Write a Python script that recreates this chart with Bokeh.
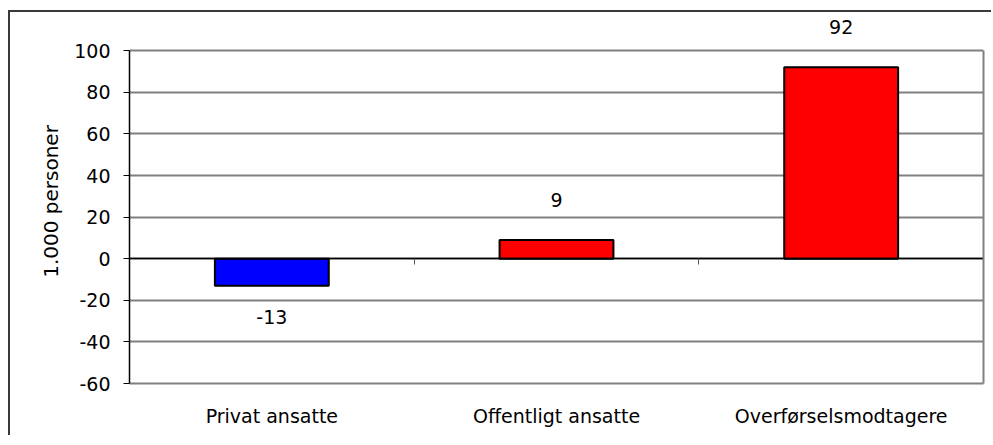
from bokeh.plotting import figure
from bokeh.models import LinearAxis, FixedTicker, ColumnDataSource, Range1d
from bokeh.core.properties import value
from bokeh.embed import file_html
from bokeh.resources import INLINE

categories = ["Privat ansatte", "Offentligt ansatte", "Overførselsmodtagere"]
values = [-13, 9, 92]
colors = ["#0000FF", "#FF0000", "#FF0000"]
y_ticks = [-60, -40, -20, 0, 20, 40, 60, 80, 100]
y_label = "1.000 personer"

FONT = "DejaVu Sans"
HEADROOM = 15  # extra value-axis room above the plot box for the value labels

n = len(categories)
centers = [i + 0.5 for i in range(n)]
ymin, ymax = y_ticks[0], y_ticks[-1]

p = figure(width=983, height=425, output_backend="svg", toolbar_location=None,
           x_range=Range1d(0, n), y_range=Range1d(ymin, ymax + HEADROOM),
           min_border_left=119, min_border_right=10, min_border_top=7, min_border_bottom=54)
p.styles = {"border-style": "solid", "border-color": "#3a3a3a",
            "border-width": "2px 0px 0px 2px",
            "margin-top": "10px", "margin-left": "8px", "outline": "none"}
p.background_fill_color = "white"
p.border_fill_color = "white"
p.outline_line_color = None

# grid (top line at 100 doubles as the plot-box top edge)
p.xgrid.visible = False
p.ygrid.ticker = FixedTicker(ticks=y_ticks)
p.ygrid.grid_line_color = "#808080"
p.ygrid.grid_line_width = 2
p.ygrid.bounds = (0, n)

# y axis
p.yaxis.ticker = FixedTicker(ticks=y_ticks)
p.yaxis.bounds = (ymin, ymax)
p.yaxis.major_label_overrides = {t: str(t) for t in y_ticks}
p.yaxis.axis_line_color = "black"
p.yaxis.axis_line_width = 1.5
p.yaxis.major_tick_line_color = "black"
p.yaxis.major_tick_out = 6
p.yaxis.major_tick_in = 0
p.yaxis.minor_tick_line_color = None
p.yaxis.major_label_text_font = FONT
p.yaxis.major_label_text_font_size = "19px"
p.yaxis.major_label_text_color = "black"
p.yaxis.major_label_standoff = 13
p.yaxis.axis_label = y_label
p.yaxis.axis_label_text_font = FONT
p.yaxis.axis_label_text_font_size = "20px"
p.yaxis.axis_label_text_font_style = "normal"
p.yaxis.axis_label_text_color = "black"
p.yaxis.axis_label_standoff = 8

# right edge of the plot box
right_axis = LinearAxis(ticker=FixedTicker(ticks=[]), bounds=(ymin, ymax),
                        axis_line_color="#808080", axis_line_width=2,
                        major_tick_line_color=None, minor_tick_line_color=None,
                        major_label_text_font_size="0px")
p.add_layout(right_axis, "right")

# category label axis (below); its line is the plot-box bottom edge
p.xaxis.ticker = FixedTicker(ticks=centers)
p.xaxis.major_label_overrides = {c: lab for c, lab in zip(centers, categories)}
p.xaxis.axis_line_color = "#808080"
p.xaxis.axis_line_width = 2
p.xaxis.major_tick_line_color = None
p.xaxis.minor_tick_line_color = None
p.xaxis.major_label_text_font = FONT
p.xaxis.major_label_text_font_size = "19px"
p.xaxis.major_label_text_color = "black"
p.xaxis.major_label_standoff = 15

# zero axis with boundary ticks
zero_axis = LinearAxis(fixed_location=0, ticker=FixedTicker(ticks=list(range(1, n))),
                       axis_line_color="black", axis_line_width=1.5,
                       major_tick_line_color="#555555", major_tick_in=6, major_tick_out=0,
                       minor_tick_line_color=None, major_label_text_font_size="0px",
                       major_label_text_color=None)
p.add_layout(zero_axis, "above")

src = ColumnDataSource(dict(x=centers, top=values, color=colors, cat=categories,
                            t=[str(v) for v in values],
                            off=[-40 if v >= 0 else 31 for v in values]))
p.vbar(x="x", top="top", bottom=0, width=0.4, fill_color="color",
       line_color="black", line_width=2, source=src)
p.text(x="x", y="top", text="t", y_offset="off", source=src, text_align="center",
       text_baseline="middle", text_font=value(FONT), text_font_size="19px",
       text_color="black")

open("out.html", "w").write(file_html(p, INLINE))
